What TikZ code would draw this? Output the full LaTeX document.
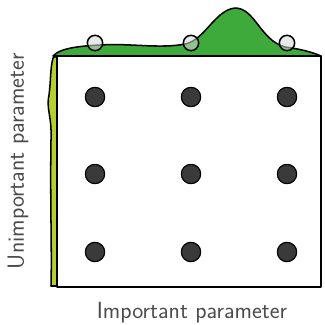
\documentclass[tikz,border=0pt]{standalone}
\usepackage{tikz}
\usetikzlibrary{positioning}
\definecolor{hillgreen}{HTML}{3FAA3C}
\definecolor{stripgreen}{HTML}{B5CF2E}
\definecolor{dotgray}{HTML}{3A3A3A}
\definecolor{ringgray}{HTML}{D5D8D8}
\tikzset{
  sample/.style={circle, draw=black, fill=dotgray, line width=1pt,
                 minimum size=0.58cm, inner sep=0pt},
  probe/.style={circle, draw=black, fill=ringgray, fill opacity=0.55, draw opacity=1,
                line width=1.3pt, minimum size=0.46cm, inner sep=0pt},
  axislabel/.style={font=\sffamily\fontsize{20}{22}\selectfont, text=black!70},
}
\begin{document}
\begin{tikzpicture}[x=0.03cm, y=-0.03cm, line cap=round, line join=round]
\useasboundingbox (0,0) rectangle (324,325);

% marginal over the important parameter
\draw[fill=hillgreen, line width=1.3pt]
  (53,56) .. controls (60,48) and (80,46) .. (100,45)
  .. controls (130,43) and (160,49) .. (185,44)
  .. controls (205,40) and (215,10) .. (235,8)
  .. controls (255,8) and (260,40) .. (285,47)
  .. controls (300,49) and (312,52) .. (321,56) -- cycle;

% marginal over the unimportant parameter
\draw[fill=stripgreen, line width=1.3pt]
  (57,56) -- (53,58) .. controls (50,70) and (51,80) .. (49,95)
  .. controls (46,110) and (52,115) .. (51,140)
  .. controls (50,200) and (52,250) .. (51,286) -- (57,286) -- cycle;

% grid of trials
\draw[fill=white, line width=1.8pt] (57,56) rectangle (321,287);
\foreach \x [count=\i] in {95,191,287}{
  \foreach \y [count=\j] in {97,174,252}{
    \node[sample] (s\i\j) at (\x,\y) {};
  }
  \node[probe] (p\i) at (\x,43) {};
}

\node[axislabel] (imp) at (192,313) {Important parameter};
\node[axislabel, rotate=90] (unimp) at (18,161) {Unimportant parameter};
\end{tikzpicture}
\end{document}
